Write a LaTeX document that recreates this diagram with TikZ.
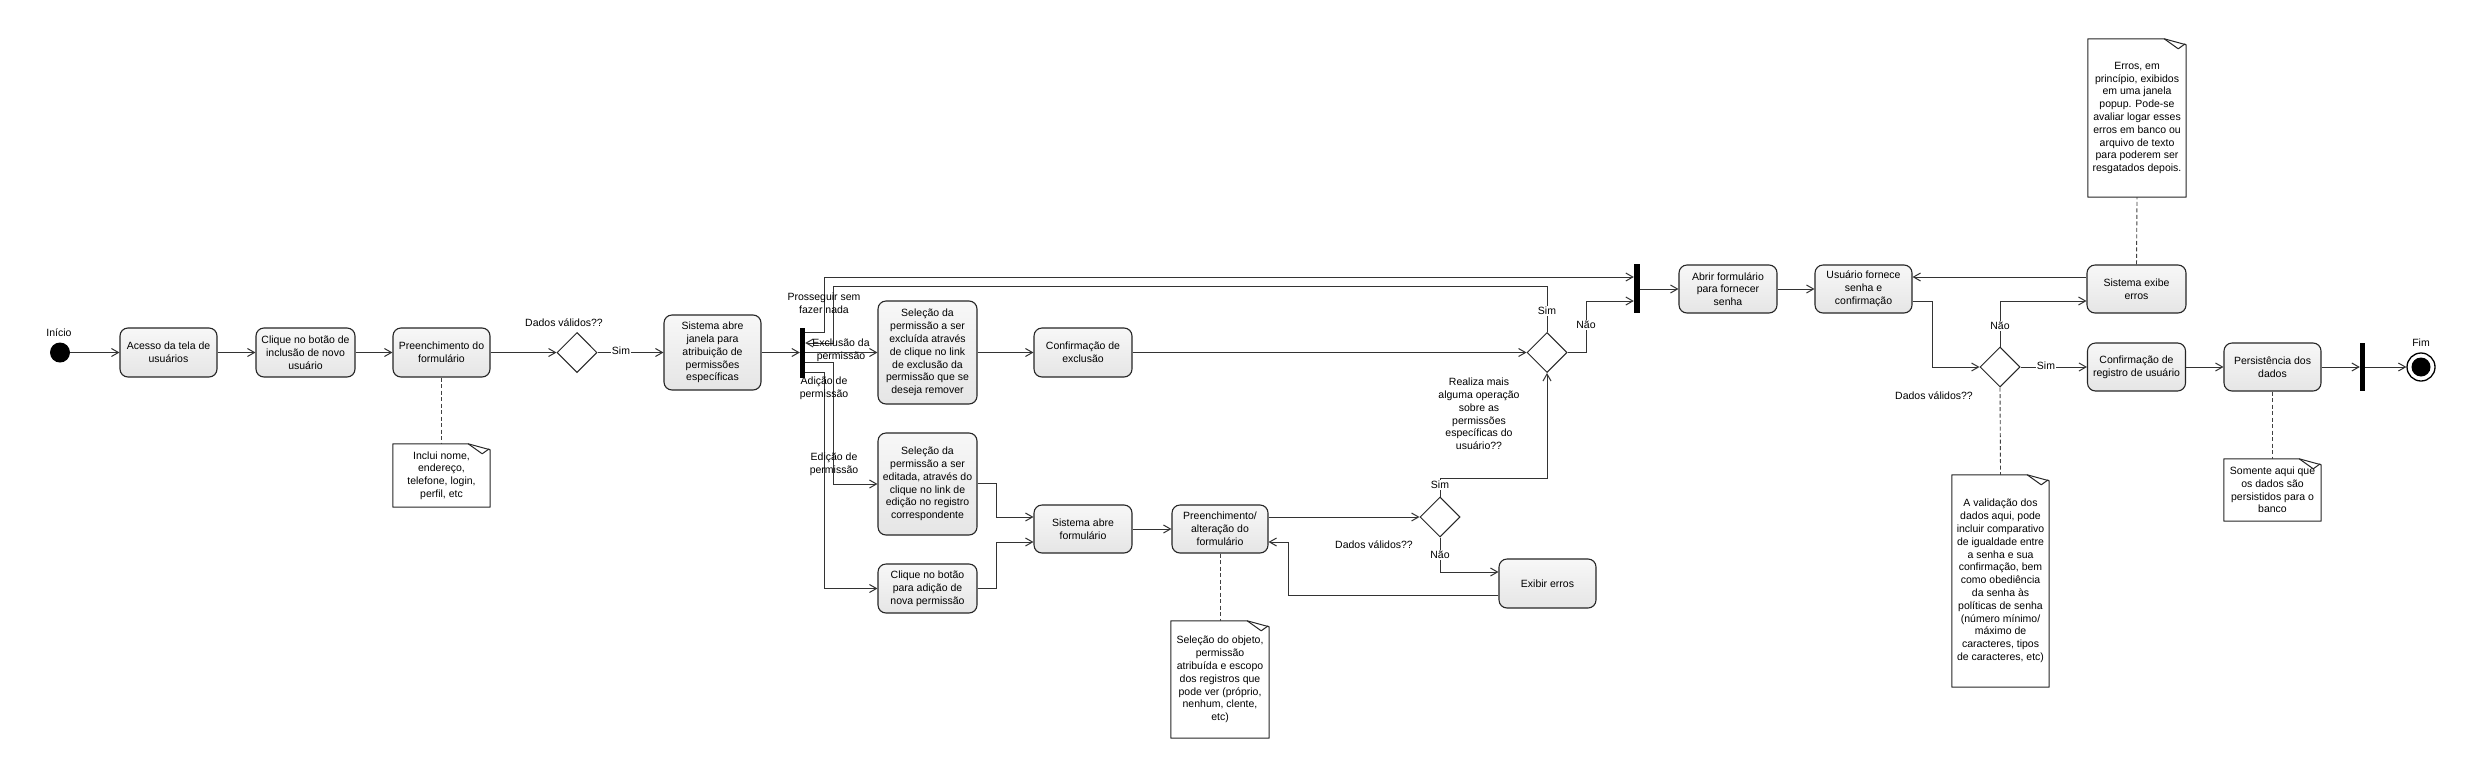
\documentclass[tikz,border=0pt]{standalone}
\usepackage{fontspec}
\setmainfont{Liberation Sans}
\usetikzlibrary{arrows.meta,shapes.geometric,calc}
\newcommand\mynote[1]{%
  \draw[notebd] (#1.north west) -- ($(#1.north east)+(-22,0)$) -- ($(#1.north east)+(0,6)$) -- (#1.south east) -- (#1.south west) -- cycle;
  \draw[notebd] ($(#1.north east)+(-22,0)$) -- ($(#1.north east)+(-8,10)$) -- ($(#1.north east)+(-1,5)$);
}
\begin{document}
\begin{tikzpicture}[x=1pt,y=-1pt,
  every node/.style={font=\fontsize{10.5}{12.8}\selectfont},
  act/.style={draw=black!85, line width=1.1pt, rounded corners=8pt, top color=gray!6, bottom color=gray!20, align=center, inner sep=0pt},
  dec/.style={draw=black!85, line width=1pt, diamond, fill=white, minimum width=40pt, minimum height=40pt, inner sep=0pt},
  sbar/.style={fill=black, draw=none, inner sep=0pt},
  flow/.style={draw=black!80, line width=1pt, -{Straight Barb[length=7pt,width=8pt]}},
  lb/.style={fill=white, inner sep=0.8pt},
  txt/.style={align=center, inner sep=0pt},
  noteln/.style={draw=black!75, line width=0.9pt, dash pattern=on 4pt off 2.5pt},
  notebd/.style={draw=black!85, line width=1pt, line join=round},
  notetx/.style={align=center, inner sep=0pt},
]
\useasboundingbox (0,0) rectangle (2479,777);
\fill[white] (0,0) rectangle (2479,777);

% ---------- nodes ----------
\node[circle, fill=black, minimum size=20pt, inner sep=0pt] (ini) at (60,352.5) {};
\node[act, minimum width=97pt, minimum height=49pt] (A) at (168.5,352.5) {Acesso da tela de\\usuários};
\node[act, minimum width=99pt, minimum height=49pt] (B) at (305.5,352.5) {Clique no botão de\\inclusão de novo\\usuário};
\node[act, minimum width=97pt, minimum height=49pt] (C) at (441.5,352.5) {Preenchimento do\\formulário};
\node[dec] (D1) at (577,352.5) {};
\node[act, minimum width=97pt, minimum height=75pt] (S) at (712.5,352.5) {Sistema abre\\janela para\\atribuição de\\permissões\\específicas};
\node[sbar, minimum width=5pt, minimum height=50pt] (F1) at (802.5,352.5) {};
\node[act, minimum width=99pt, minimum height=103pt] (E1) at (927.5,352.5) {Seleção da\\permissão a ser\\excluída através\\de clique no link\\de exclusão da\\permissão que se\\deseja remover};
\node[act, minimum width=98pt, minimum height=49pt] (CE) at (1083,352.5) {Confirmação de\\exclusão};
\node[act, minimum width=99pt, minimum height=102pt] (ED) at (927.5,484) {Seleção da\\permissão a ser\\editada, através do\\clique no link de\\edição no registro\\correspondente};
\node[act, minimum width=98pt, minimum height=48pt] (SF) at (1083,529) {Sistema abre\\formulário};
\node[act, minimum width=99pt, minimum height=49pt] (AD) at (927.5,588.5) {Clique no botão\\para adição de\\nova permissão};
\node[act, minimum width=96pt, minimum height=48pt] (PA) at (1220,529) {Preenchimento/\\alteração do\\formulário};
\node[dec] (D3) at (1440,517) {};
\node[act, minimum width=97pt, minimum height=49pt] (EX) at (1547.5,583.5) {Exibir erros};
\node[dec] (D2) at (1547,352.5) {};
\node[sbar, minimum width=6pt, minimum height=49pt] (J1) at (1637,288.5) {};
\node[act, minimum width=98pt, minimum height=48pt] (AF) at (1728,289) {Abrir formulário\\para fornecer\\senha};
\node[act, minimum width=97pt, minimum height=48pt] (UF) at (1863.5,289) {Usuário fornece\\senha e\\confirmação};
\node[act, minimum width=99pt, minimum height=48pt] (SE) at (2136.5,289) {Sistema exibe\\erros};
\node[dec] (D4) at (2000,367) {};
\node[act, minimum width=98pt, minimum height=48pt] (CR) at (2136.5,367) {Confirmação de\\registro de usuário};
\node[act, minimum width=97pt, minimum height=48pt] (PD) at (2272.5,367) {Persistência dos\\dados};
\node[sbar, minimum width=5pt, minimum height=48pt] (J2) at (2362.5,367) {};
\node[circle, draw=black, line width=1.3pt, minimum size=28pt, inner sep=0pt] (fim) at (2421,367) {};
\node[circle, fill=black, minimum size=19pt, inner sep=0pt] (fimin) at (fim.center) {};

% notes
\node[notetx, minimum width=97pt, minimum height=63pt] (N1) at (441.5,475.5) {Inclui nome,\\endereço,\\telefone, login,\\perfil, etc};
\node[notetx, minimum width=98pt, minimum height=117pt] (N2) at (1220,679.5) {Seleção do objeto,\\permissão\\atribuída e escopo\\dos registros que\\pode ver (próprio,\\nenhum, clente,\\etc)};
\node[notetx, minimum width=98pt, minimum height=158pt] (N3) at (2137,118) {Erros, em\\princípio, exibidos\\em uma janela\\popup. Pode-se\\avaliar logar esses\\erros em banco ou\\arquivo de texto\\para poderem ser\\resgatados depois.};
\node[notetx, minimum width=97pt, minimum height=212pt] (N4) at (2000.5,581) {A validação dos\\dados aqui, pode\\incluir comparativo\\de igualdade entre\\a senha e sua\\confirmação, bem\\como obediência\\da senha às\\políticas de senha\\(número mínimo/\\máximo de\\caracteres, tipos\\de caracteres, etc)};
\node[notetx, minimum width=97pt, minimum height=62pt] (N5) at (2272.5,490) {Somente aqui que\\os dados são\\persistidos para o\\banco};
\mynote{N1}
\mynote{N2}
\mynote{N3}
\mynote{N4}
\mynote{N5}

% ---------- connectors ----------
\draw[flow] (ini.east) -- (A.west);
\draw[flow] (A.east) -- (B.west);
\draw[flow] (B.east) -- (C.west);
\draw[flow] (C.east) -- (D1.west);
\draw[flow] (D1.east) -- (S.west);
\draw[flow] (S.east) -- (F1.west);
\draw[flow] (F1.east |- 0,332) -| (824,277) -- (J1.west |- 0,277);
\draw[flow] (D2.north) |- (833,286) -- (833,343) -- (F1.east |- 0,343);
\draw[flow] (F1.east) -- (E1.west);
\draw[flow] (F1.east |- 0,362) -| (833,484) -- (ED.west);
\draw[flow] (F1.east |- 0,372) -| (824,588.5) -- (AD.west);
\draw[flow] (E1.east) -- (CE.west);
\draw[flow] (CE.east) -- (D2.west);
\draw[flow] (D2.east) -| (1586,301) -- (J1.west |- 0,301);
\draw[flow] (J1.east |- 0,289) -- (AF.west);
\draw[flow] (AF.east) -- (UF.west);
\draw[flow] (UF.east |- 0,301) -| (1932,367) -- (D4.west);
\draw[flow] (D4.north) |- (SE.west |- 0,301);
\draw[flow] (SE.west |- 0,277) -- (UF.east |- 0,277);
\draw[flow] (D4.east) -- (CR.west);
\draw[flow] (CR.east) -- (PD.west);
\draw[flow] (PD.east) -- (J2.west);
\draw[flow] (J2.east) -- (fim.west);
\draw[flow] (ED.east |- 0,483) -| (996,517) -- (SF.west |- 0,517);
\draw[flow] (AD.east) -| (996,542) -- (SF.west |- 0,542);
\draw[flow] (SF.east) -- (PA.west);
\draw[flow] (PA.east |- 0,517) -- (D3.west);
\draw[flow] (D3.north) |- (1547,478) -- (D2.south);
\draw[flow] (D3.south) |- (EX.west |- 0,572);
\draw[flow] (EX.west |- 0,595) -| (1288,542) -- (PA.east |- 0,542);

\draw[noteln] (C.south) -- (N1.north);
\draw[noteln] (PA.south) -- (N2.north);
\draw[noteln] (SE.north) -- (N3.south);
\draw[noteln] (D4.south) -- (N4.north);
\draw[noteln] (PD.south) -- (N5.north);

% ---------- labels ----------
\node[txt] (lini) at (59,333) {Início};
\node[txt] (ld1) at (564,323) {Dados válidos??};
\node[lb] (lsim1) at (621,351) {Sim};
\node[txt] (lpros) at (824,303) {Prosseguir sem\\fazer nada};
\node[txt] (lexc) at (841,350) {Exclusão da\\permissão};
\node[txt] (ladi) at (824,388) {Adição de\\permissão};
\node[txt] (ledi) at (834,464) {Edição de\\permissão};
\node[lb] (lsim2) at (1547,311) {Sim};
\node[lb] (lnao2) at (1586,325) {Não};
\node[txt] (lreal) at (1479,414) {Realiza mais\\alguma operação\\sobre as\\permissões\\específicas do\\usuário??};
\node[lb] (lsim3) at (1440,485) {Sim};
\node[lb] (lnao3) at (1440,555) {Não};
\node[txt] (ld3) at (1374,545) {Dados válidos??};
\node[lb] (lnao4) at (2000,326) {Não};
\node[lb] (lsim4) at (2046,366) {Sim};
\node[txt] (ld4) at (1934,396) {Dados válidos??};
\node[txt] (lfim) at (2421,343) {Fim};
\end{tikzpicture}
\end{document}
